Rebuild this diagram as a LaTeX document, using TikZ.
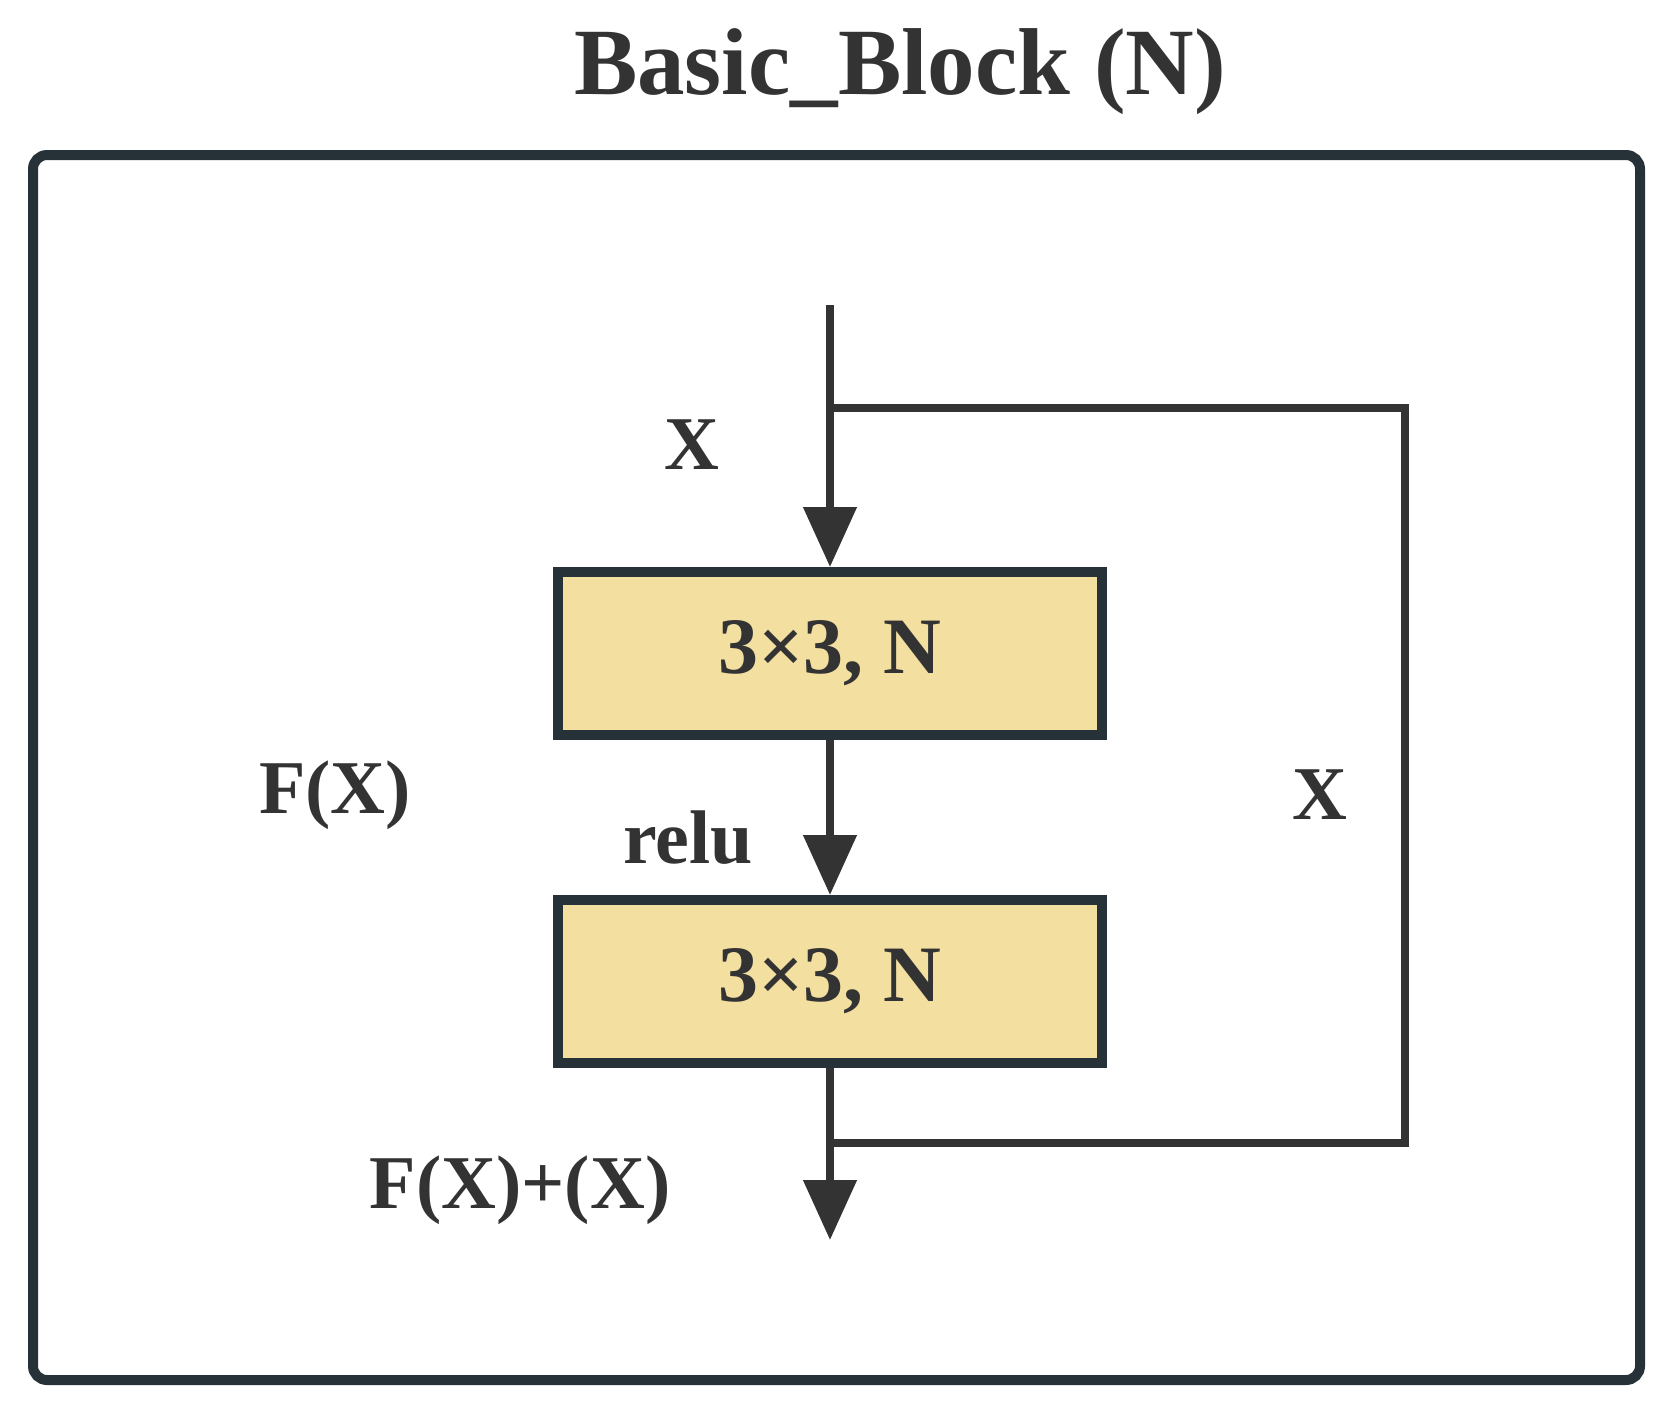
\documentclass[tikz,border=0pt]{standalone}
\usepackage{fontspec}
\setmainfont{Liberation Serif}
\usetikzlibrary{arrows.meta}
\definecolor{dk}{HTML}{263238}
\definecolor{ln}{HTML}{333333}
\definecolor{fl}{HTML}{F3DFA0}
\begin{document}
\begin{tikzpicture}[x=1pt,y=-1pt,
  blk/.style={draw=dk,line width=10pt,fill=fl,minimum width=544pt,minimum height=163pt,inner sep=0pt,font=\fontsize{80}{84}\selectfont\bfseries,text=ln},
  lbl/.style={font=\fontsize{76}{80}\selectfont\bfseries,text=ln},
  arr/.style={draw=ln,line width=8pt,-{Triangle[length=60pt,width=52pt]}},
  wire/.style={draw=ln,line width=8pt}]
\useasboundingbox (0,0) rectangle (1667,1411);
\draw[dk,line width=10pt,rounded corners=14pt] (33,155) rectangle (1640,1380);
\node[font=\fontsize{95}{100}\selectfont\bfseries,text=ln] (title) at (900,72) {Basic\_Block (N)};
\node[blk] (b1) at (830,653.5) {3×3, N};
\node[blk] (b2) at (830,981.5) {3×3, N};
\coordinate (top) at (830,305);
\coordinate (s1) at (830,408);
\coordinate (s2) at (1405,408);
\coordinate (s3) at (1405,1143);
\coordinate (s4) at (830,1143);
\coordinate (end) at (830,1240);
\draw[arr] (top) -- (b1.north);
\draw[arr] (b1.south) -- (b2.north);
\draw[arr] (b2.south) -- (end);
\draw[wire] (s1) -- (s2) -- (s3) -- (s4);
\node[lbl] (x1) at (692,445) {X};
\node[lbl] (fx) at (335,795) {F(X)};
\node[lbl] (relu) at (688,838) {relu};
\node[lbl] (x2) at (1320,795) {X};
\node[lbl] (sum) at (520,1190) {F(X)+(X)};
\end{tikzpicture}
\end{document}
